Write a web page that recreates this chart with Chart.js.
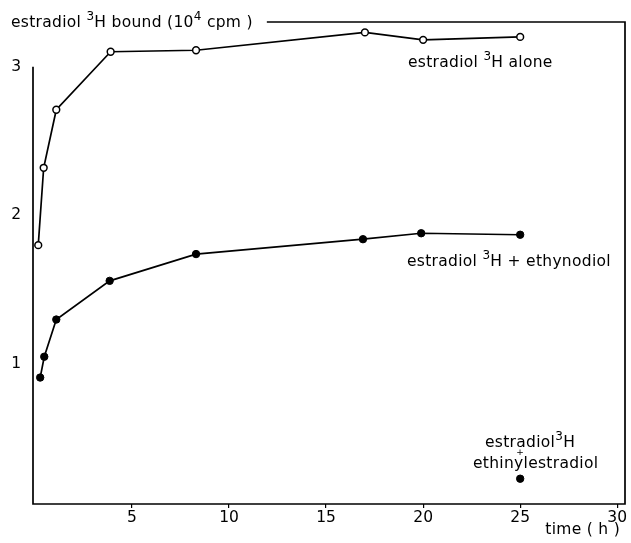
<!DOCTYPE html>
<html>
<head>
<meta charset="utf-8">
<script src="https://cdn.jsdelivr.net/npm/chart.js@4/dist/chart.umd.min.js"></script>
<style>
html,body{margin:0;padding:0;background:#fff;}
#wrap{width:631px;height:543px;position:relative;}
</style>
</head>
<body>
<div id="wrap"><canvas id="c" width="631" height="543"></canvas></div>
<script>
// Data (time in hours, bound estradiol in 10^4 cpm)
const timeAlone = [0.17, 0.45, 1.1, 3.9, 8.3, 17, 20, 25];
const boundAlone = [1.80, 2.32, 2.71, 3.10, 3.11, 3.23, 3.18, 3.20];
const timeEthynodiol = [0.27, 0.48, 1.1, 3.85, 8.3, 16.9, 19.9, 25];
const boundEthynodiol = [0.91, 1.05, 1.30, 1.56, 1.74, 1.84, 1.88, 1.87];
const timeEthinyl = [25];
const boundEthinyl = [0.23];
const xTicks = [5, 10, 15, 20, 25, 30];
const yTicks = [1, 2, 3];

const FONT = '"DejaVu Sans", sans-serif';
const TS = 15.5;

function pts(xs, ys){ return xs.map((x,i)=>({x:x, y:ys[i]})); }

function drawRich(ctx, parts, x, y, size){
  let cx = x;
  parts.forEach(p=>{
    const s = p.sup ? Math.round(size*0.75) : size;
    ctx.font = s + 'px ' + FONT;
    ctx.fillText(p.t, cx, p.sup ? y - size*0.38 : y);
    cx += ctx.measureText(p.t).width;
  });
  return cx;
}

const framePlugin = {
  id: 'frame',
  afterDraw(chart){
    const ctx = chart.ctx;
    const a = chart.chartArea;
    const ys = chart.scales.y;
    ctx.save();
    ctx.strokeStyle = '#000';
    ctx.fillStyle = '#000';
    ctx.lineWidth = 1.7;
    ctx.textBaseline = 'middle';
    ctx.textAlign = 'left';
    try { ctx.letterSpacing = '0.3px'; } catch(e) {}
    // title
    const endX = drawRich(ctx, [
      {t:'estradiol '}, {t:'3', sup:true}, {t:'H bound (10'}, {t:'4', sup:true}, {t:' cpm )'}
    ], 11, a.top + 1, TS);
    // annotations
    drawRich(ctx, [{t:'estradiol '},{t:'3',sup:true},{t:'H alone'}], 408, 63, TS);
    drawRich(ctx, [{t:'estradiol '},{t:'3',sup:true},{t:'H + ethynodiol'}], 407, 262, TS);
    drawRich(ctx, [{t:'estradiol'},{t:'3',sup:true},{t:'H'}], 485, 443, TS);
    ctx.font = TS + 'px ' + FONT;
    ctx.fillText('ethinylestradiol', 473, 464);
    ctx.textAlign = 'right';
    ctx.fillText('time ( h )', 620, 530);
    try { ctx.letterSpacing = '0px'; } catch(e) {}
    ctx.font = '9px ' + FONT;
    ctx.textAlign = 'center';
    ctx.fillText('+', 520, 453);
    // frame
    ctx.beginPath();
    ctx.moveTo(Math.max(endX + 14, 265), a.top);
    ctx.lineTo(a.right, a.top);
    ctx.lineTo(a.right, a.bottom);
    ctx.lineTo(a.left, a.bottom);
    ctx.lineTo(a.left, ys.getPixelForValue(3));
    ctx.stroke();
    ctx.restore();
  }
};

new Chart(document.getElementById('c'), {
  type: 'scatter',
  data: {
    datasets: [
      {
        data: pts(timeAlone, boundAlone),
        showLine: true,
        borderColor: '#000',
        borderWidth: 1.7,
        pointRadius: 3.4,
        pointBackgroundColor: '#fff',
        pointBorderColor: '#000',
        pointBorderWidth: 1.5
      },
      {
        data: pts(timeEthynodiol, boundEthynodiol),
        showLine: true,
        borderColor: '#000',
        borderWidth: 1.7,
        pointRadius: 3.7,
        pointBackgroundColor: '#000',
        pointBorderColor: '#000',
        pointBorderWidth: 1
      },
      {
        data: pts(timeEthinyl, boundEthinyl),
        showLine: false,
        pointRadius: 3.7,
        pointBackgroundColor: '#000',
        pointBorderColor: '#000',
        pointBorderWidth: 1
      }
    ]
  },
  options: {
    responsive: false,
    animation: false,
    layout: { padding: { top: 22, right: 6, left: 0, bottom: 0 } },
    plugins: { legend: { display: false }, tooltip: { enabled: false } },
    scales: {
      x: {
        type: 'linear',
        min: -0.1,
        max: 30.4,
        afterBuildTicks(s){ s.ticks = xTicks.map(v=>({value:v})); },
        afterFit(s){ s.height = 39; },
        border: { display: false },
        grid: { drawOnChartArea: false, drawTicks: true, tickLength: 4, color: '#000', lineWidth: 1.2 },
        ticks: { color: '#000', font: { family: FONT, size: 15.5 }, padding: 1, maxRotation: 0, autoSkip: false }
      },
      y: {
        type: 'linear',
        min: 0.06,
        max: 3.3,
        afterBuildTicks(s){ s.ticks = yTicks.map(v=>({value:v})); },
        afterFit(s){ s.width = 33; },
        border: { display: false },
        grid: { display: false, drawTicks: false },
        ticks: { color: '#000', font: { family: FONT, size: 15.5 }, padding: 12 }
      }
    }
  },
  plugins: [framePlugin]
});
</script>
</body>
</html>
